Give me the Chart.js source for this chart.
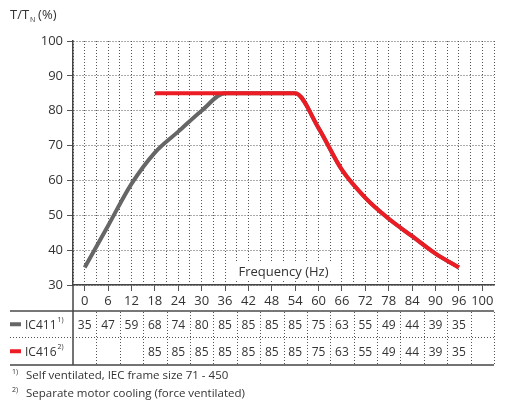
<!DOCTYPE html>
<html>
<head>
<meta charset="utf-8">
<style>
  html, body { margin: 0; padding: 0; background: #fff; }
  #wrap { position: relative; width: 510px; height: 405px; }
</style>
<script src="https://cdn.jsdelivr.net/npm/chart.js@4.4.1/dist/chart.umd.min.js"></script>
</head>
<body>
<div id="wrap"><canvas id="chart" width="510" height="405"></canvas></div>
<script>
// --- Data ---
const freqLabels = ['0', '6', '12', '18', '24', '30', '36', '42', '48', '54', '60', '66', '72', '78', '84', '90', '96', '100'];
const ic411 = [35, 47, 59, 68, 74, 80, 85, 85, 85, 85, 75, 63, 55, 49, 44, 39, 35, null];
const ic416 = [null, null, null, 85, 85, 85, 85, 85, 85, 85, 75, 63, 55, 49, 44, 39, 35, null];
const seriesNames = ['IC411', 'IC416'];
const seriesNotes = ['1)', '2)'];
const footnotes = ['Self ventilated, IEC frame size 71 - 450', 'Separate motor cooling (force ventilated)'];

const FONT = "'Open Sans', 'Noto Sans', sans-serif";
const TEXT = '#333333';
const GREY = '#666666';
const RED = '#ec1c24';
const GRID = '#555555';

// --- Extra drawing: titles, table, footnotes ---
const extras = {
    id: 'extras',
    afterDraw(chart) {
        const ctx = chart.ctx;
        const area = chart.chartArea;
        const xs = chart.scales.x;
        const colW = xs.getPixelForValue(1) - xs.getPixelForValue(0);

        ctx.save();
        ctx.fillStyle = TEXT;
        ctx.textBaseline = 'alphabetic';

        // y axis title T/T_N (%)
        ctx.font = `13px ${FONT}`;
        ctx.textAlign = 'left';
        ctx.fillText('T/T', 10, 19);
        let w = ctx.measureText('T/T').width;
        ctx.font = `7px ${FONT}`;
        ctx.fillText('N', 10 + w + 1, 22);
        ctx.font = `13px ${FONT}`;
        ctx.fillText('(%)', 10 + w + 9, 19);

        // x axis title inside plot
        ctx.font = `13px ${FONT}`;
        const ft = 'Frequency (Hz)';
        const fw = ctx.measureText(ft).width;
        const cx = (area.left + area.right) / 2;
        ctx.fillStyle = '#fff';
        ctx.fillRect(cx - fw / 2 - 3, 263, fw + 6, 16);
        ctx.fillStyle = TEXT;
        ctx.textAlign = 'center';
        ctx.fillText(ft, cx, 276);

        // table
        const tTop = 311, tMid = 337.5, tBot = 365;
        ctx.strokeStyle = '#777';
        ctx.lineWidth = 2;
        ctx.beginPath(); ctx.moveTo(10, tTop); ctx.lineTo(area.right, tTop); ctx.stroke();
        ctx.strokeStyle = '#444';
        ctx.lineWidth = 1.5;
        ctx.beginPath(); ctx.moveTo(10, tBot); ctx.lineTo(area.right, tBot); ctx.stroke();
        // axis continues down through the table
        ctx.beginPath(); ctx.moveTo(area.left, area.bottom); ctx.lineTo(area.left, tBot); ctx.stroke();

        ctx.strokeStyle = GRID;
        ctx.lineWidth = 1;
        ctx.setLineDash([1, 2]);
        ctx.beginPath(); ctx.moveTo(10, tMid); ctx.lineTo(area.right, tMid); ctx.stroke();
        for (let i = 0; i < freqLabels.length; i++) {
            const bx = Math.round(xs.getPixelForValue(i) + colW / 2) + 0.5;
            ctx.beginPath(); ctx.moveTo(bx, tTop + 1); ctx.lineTo(bx, tBot - 1); ctx.stroke();
        }
        ctx.setLineDash([]);

        const rows = [ic411, ic416];
        const colors = [GREY, RED];
        const rowY = [(tTop + tMid) / 2, (tMid + tBot) / 2];
        rows.forEach((row, r) => {
            const y = rowY[r];
            ctx.fillStyle = colors[r];
            ctx.fillRect(10, y - 2, 11, 4);
            ctx.fillStyle = TEXT;
            ctx.textAlign = 'left';
            ctx.textBaseline = 'middle';
            ctx.font = `12px ${FONT}`;
            ctx.fillText(seriesNames[r], 25, y + 1);
            const nw = ctx.measureText(seriesNames[r]).width;
            ctx.font = `7px ${FONT}`;
            ctx.fillText(seriesNotes[r], 25 + nw + 1, y - 4);
            ctx.font = `12px ${FONT}`;
            ctx.textAlign = 'center';
            row.forEach((v, i) => {
                if (v === null) return;
                ctx.fillText(String(v), xs.getPixelForValue(i), y + 1);
            });
        });

        // footnotes
        footnotes.forEach((txt, k) => {
            const y = 379 + k * 18;
            ctx.textAlign = 'left';
            ctx.textBaseline = 'alphabetic';
            ctx.font = `7px ${FONT}`;
            ctx.fillText(seriesNotes[k], 12, y - 5);
            ctx.font = `11.5px ${FONT}`;
            ctx.fillText(txt, 26, y);
        });

        ctx.restore();
    }
};

// --- Chart ---
const ctx = document.getElementById('chart').getContext('2d');
Chart.defaults.font.family = FONT;
Chart.defaults.color = TEXT;

new Chart(ctx, {
    type: 'line',
    data: {
        labels: freqLabels,
        datasets: [
            {
                label: seriesNames[1],
                data: ic416,
                borderColor: RED,
                borderWidth: 4,
                pointRadius: 0,
                cubicInterpolationMode: 'monotone',
                spanGaps: false,
                order: 0
            },
            {
                label: seriesNames[0],
                data: ic411,
                borderColor: GREY,
                borderWidth: 4,
                pointRadius: 0,
                cubicInterpolationMode: 'monotone',
                order: 1
            }
        ]
    },
    plugins: [extras],
    options: {
        responsive: false,
        animation: false,
        layout: { padding: { top: 41, right: 16, bottom: 94, left: 0 } },
        plugins: { legend: { display: false }, tooltip: { enabled: false } },
        scales: {
            x: {
                type: 'category',
                offset: true,
                grid: { offset: false, color: GRID, tickLength: 6, tickColor: GRID, tickBorderDash: [] },
                border: { display: true, color: '#444', width: 1.5, dash: [1, 2] },
                ticks: { font: { size: 13 }, color: TEXT, padding: 2, maxRotation: 0, autoSkip: false },
                afterFit: (s) => { s.height = 26; }
            },
            x2: {
                type: 'category',
                labels: freqLabels,
                position: 'top',
                offset: true,
                grid: { offset: true, color: GRID, drawTicks: false },
                border: { display: false, dash: [1, 2] },
                ticks: { display: false },
                afterFit: (s) => { s.height = 0; }
            },
            y: {
                min: 30,
                max: 100,
                ticks: { stepSize: 10, font: { size: 13 }, color: TEXT, padding: 4 },
                grid: { color: GRID, tickLength: 6, tickColor: GRID, tickBorderDash: [] },
                border: { display: true, color: '#444', width: 1.5, dash: [1, 2] },
                afterFit: (s) => { s.width = 73; }
            }
        }
    }
});
</script>
</body>
</html>
